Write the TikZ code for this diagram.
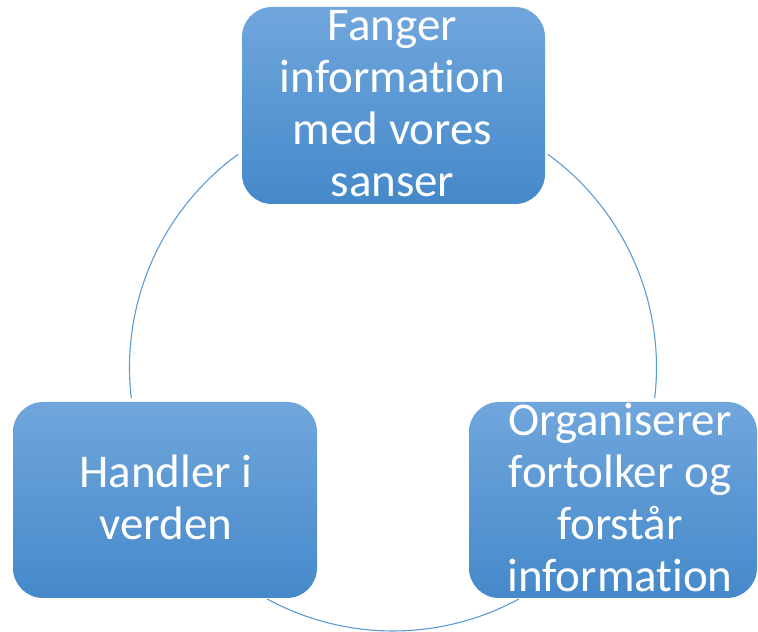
\documentclass[tikz,border=0pt]{standalone}
\usepackage{fontspec}
\setmainfont{Carlito}[Ligatures=NoCommon]
\usetikzlibrary{calc}
\definecolor{boxtop}{HTML}{70A6DC}
\definecolor{boxbot}{HTML}{4589CA}
\definecolor{ringcol}{HTML}{5B9BD5}
\begin{document}
\begin{tikzpicture}[x=1pt,y=1pt,
  cyclebox/.style={rectangle, rounded corners=30pt, top color=boxtop, bottom color=boxbot, draw=none, inner sep=0pt},
  boxtext/.style={text=white, align=center, anchor=base, inner sep=0pt, font=\fontsize{47}{52.3}\selectfont},
  ring/.style={draw=ringcol, line width=1.1pt}]
\useasboundingbox (0,0) rectangle (758,632);
% boxes (image y measured from top; tikz y = 632 - y)
\node[cyclebox, minimum width=303pt, minimum height=197pt] (top) at (393.5,526.5) {};
\node[cyclebox, minimum width=304pt, minimum height=196pt] (left) at (165,132) {};
\node[cyclebox, minimum width=288pt, minimum height=196pt] (right) at (613,132) {};
% ring arcs
\coordinate (C) at (393,264.5);
\coordinate (a1) at ($(C)+(54:263.5)$);
\coordinate (a2) at ($(C)+(126:263.5)$);
\coordinate (a3) at ($(C)+(241.5:263.5)$);
\draw[ring] (a1) arc[start angle=54, end angle=-6.7, radius=263.5];
\draw[ring] (a2) arc[start angle=126, end angle=186.7, radius=263.5];
\draw[ring] (a3) arc[start angle=241.5, end angle=298.5, radius=263.5];
% texts (anchor base = last line's baseline)
\node[boxtext] (ttop) at (392.5,435) {Fanger\\information\\med vores\\sanser};
\node[boxtext] (tleft) at (166,92) {Handler i\\verden};
\node[boxtext] (tright) at (620,40) {Organiserer\\fortolker og\\forstår\\information};
\end{tikzpicture}
\end{document}
